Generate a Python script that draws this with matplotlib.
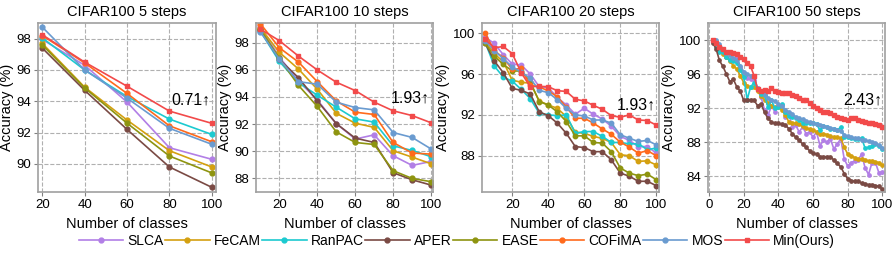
import numpy as np
import matplotlib
matplotlib.use("Agg")
import matplotlib.pyplot as plt

plt.rcParams['font.family'] = ['Liberation Sans', 'DejaVu Sans']

methods = ["SLCA", "FeCAM", "RanPAC", "APER", "EASE", "COFiMA", "MOS", "Min(Ours)"]
colors = ["#b27fe6", "#d4a010", "#1ccad0", "#7a4a44", "#8e9410", "#ff6a1c", "#6a9bd0", "#f24a4a"]

# ---- CIFAR100 5 steps ----
x5 = [20, 40, 60, 80, 100]
s5 = {
    "SLCA":      [97.95, 96.30, 93.95, 91.03, 90.29],
    "FeCAM":     [97.70, 94.90, 92.80, 90.84, 89.80],
    "RanPAC":    [98.05, 96.00, 94.30, 92.86, 91.88],
    "APER":      [97.40, 94.70, 92.20, 89.80, 88.50],
    "EASE":      [97.60, 94.85, 92.60, 90.50, 89.42],
    "COFiMA":    [98.20, 96.45, 94.50, 92.43, 91.41],
    "MOS":       [98.74, 96.00, 94.20, 92.27, 91.25],
    "Min(Ours)": [98.25, 96.50, 94.96, 93.37, 92.59],
}

# ---- CIFAR100 10 steps ----
x10 = [10, 20, 30, 40, 50, 60, 70, 80, 90, 100]
s10 = {
    "SLCA":      [99.20, 96.95, 95.18, 93.79, 92.04, 90.90, 91.21, 89.67, 88.96, 89.25],
    "FeCAM":     [99.10, 97.29, 96.07, 94.57, 92.80, 92.07, 91.76, 90.04, 89.57, 89.08],
    "RanPAC":    [98.85, 96.62, 95.06, 94.13, 93.25, 92.39, 92.15, 90.40, 90.06, 89.60],
    "APER":      [98.90, 96.77, 95.43, 93.71, 92.04, 90.97, 90.65, 88.42, 87.90, 87.51],
    "EASE":      [99.00, 96.85, 94.87, 93.30, 91.43, 90.65, 90.50, 88.57, 88.00, 87.76],
    "COFiMA":    [99.40, 97.63, 96.58, 95.13, 93.71, 92.88, 92.71, 90.65, 89.87, 89.79],
    "MOS":       [98.80, 96.78, 95.13, 94.94, 93.62, 93.22, 93.05, 91.38, 91.02, 90.17],
    "Min(Ours)": [99.00, 98.15, 97.02, 95.99, 95.09, 94.47, 93.62, 92.98, 92.63, 92.10],
}

# ---- CIFAR100 20 steps ----
x20 = list(range(5, 101, 5))
s20 = {
    "SLCA":      [99.60, 99.00, 97.90, 96.98, 96.88, 96.00, 94.76, 94.67, 93.72, 92.97,
                  92.07, 92.65, 92.07, 91.60, 90.90, 89.90, 89.50, 88.90, 88.90, 88.26],
    "FeCAM":     [99.20, 98.00, 97.20, 95.40, 95.20, 95.10, 93.37, 92.97, 92.65, 91.84,
                  90.30, 90.20, 89.90, 89.70, 89.30, 88.10, 88.00, 87.45, 87.50, 87.10],
    "RanPAC":    [99.10, 96.80, 95.70, 95.30, 94.50, 93.60, 92.16, 92.00, 91.93, 92.00,
                  90.20, 90.37, 90.37, 89.90, 89.30, 89.30, 89.17, 89.17, 88.60, 88.75],
    "APER":      [99.00, 97.30, 96.13, 94.60, 94.40, 94.05, 92.30, 91.93, 91.20, 90.20,
                  88.90, 88.80, 88.40, 88.40, 87.60, 86.30, 86.00, 85.50, 85.50, 85.07],
    "EASE":      [99.00, 97.75, 96.95, 96.30, 96.30, 95.25, 93.30, 92.97, 92.30, 91.35,
                  89.95, 89.95, 89.30, 89.24, 88.40, 86.80, 86.30, 86.05, 86.20, 85.66],
    "COFiMA":    [100.0, 98.30, 97.60, 96.45, 96.55, 94.90, 94.76, 94.34, 93.80, 92.75,
                  91.67, 91.67, 91.20, 90.63, 90.10, 89.33, 88.85, 88.26, 88.50, 88.00],
    "MOS":       [99.25, 98.30, 97.50, 96.70, 96.20, 95.57, 94.40, 94.18, 93.50, 92.65,
                  92.00, 91.90, 91.50, 91.50, 91.20, 90.05, 89.72, 89.40, 89.50, 89.07],
    "Min(Ours)": [99.40, 98.57, 98.70, 98.00, 96.13, 94.76, 94.80, 94.76, 94.37, 94.30,
                  93.53, 93.37, 92.94, 92.55, 91.93, 91.77, 92.00, 91.50, 91.45, 91.00],
}

# ---- CIFAR100 50 steps ----
x50 = list(range(2, 101, 2))
s50 = {
    "SLCA": [100.0, 99.6, 99.2, 98.6, 98.0, 97.8, 97.6, 98.0, 96.8, 95.8,
             95.5, 95.4, 95.3, 94.2, 93.3, 91.8, 91.2, 92.2, 91.6, 92.2,
             92.4, 91.0, 91.4, 89.8, 90.0, 89.2, 89.8, 89.0, 89.2, 88.6,
             89.2, 87.6, 88.2, 88.0, 88.4, 87.2, 87.8, 88.4, 86.0, 85.2,
             85.6, 85.8, 85.9, 86.6, 85.0, 84.2, 85.6, 85.6, 84.4, 84.5],
    "FeCAM": [99.9, 99.4, 98.9, 98.4, 98.0, 97.5, 97.0, 96.6, 95.8, 95.0,
              94.6, 94.5, 94.5, 94.0, 93.4, 93.0, 92.6, 92.2, 92.1, 92.1,
              91.8, 91.2, 90.4, 90.2, 90.2, 90.1, 89.9, 89.7, 89.5, 89.4,
              89.2, 89.0, 89.0, 88.9, 88.7, 88.6, 88.6, 88.5, 87.4, 86.6,
              86.4, 86.2, 86.0, 86.0, 85.9, 85.8, 85.8, 85.7, 85.6, 85.3],
    "RanPAC": [99.9, 99.2, 98.6, 98.6, 98.0, 97.6, 97.5, 97.3, 96.5, 95.7,
               93.0, 94.5, 95.0, 94.2, 93.7, 93.5, 92.1, 92.9, 92.0, 92.1,
               92.5, 91.5, 91.1, 91.0, 90.9, 90.6, 90.3, 90.3, 90.3, 90.3,
               90.1, 89.4, 89.9, 89.8, 89.6, 89.5, 89.4, 89.8, 88.6, 88.6,
               88.5, 88.4, 88.4, 88.5, 87.3, 87.4, 87.5, 87.8, 87.5, 87.2],
    "APER": [99.7, 99.0, 97.6, 96.9, 96.0, 95.1, 95.4, 94.5, 94.0, 92.9,
             93.0, 93.0, 92.9, 92.3, 92.5, 91.5, 90.8, 90.4, 90.2, 90.2,
             90.1, 90.0, 89.6, 89.0, 88.6, 88.2, 87.8, 87.4, 87.0, 86.7,
             86.6, 86.3, 86.3, 86.3, 86.3, 85.9, 85.5, 85.1, 84.3, 83.7,
             83.5, 83.4, 83.4, 83.2, 83.1, 83.0, 83.0, 82.9, 82.8, 82.5],
    "MOS": [100.0, 100.0, 99.5, 99.0, 98.5, 98.2, 97.9, 97.6, 97.0, 96.3,
            96.0, 95.8, 95.6, 94.4, 94.0, 93.6, 93.2, 92.9, 92.8, 92.5,
            92.3, 91.8, 91.6, 91.3, 91.0, 90.8, 90.7, 90.5, 90.4, 90.2,
            90.1, 90.0, 89.9, 89.8, 89.7, 89.6, 89.4, 89.3, 88.9, 88.7,
            88.6, 88.5, 88.5, 88.3, 88.2, 88.1, 88.0, 87.9, 87.7, 87.37],
    "Min(Ours)": [100.0, 99.7, 99.2, 98.9, 98.6, 98.6, 98.5, 98.4, 98.0, 97.8,
                  97.3, 96.9, 95.8, 94.2, 94.0, 94.1, 94.0, 94.4, 94.0, 93.9,
                  93.8, 93.8, 93.8, 93.6, 93.4, 93.2, 93.0, 92.9, 92.6, 92.2,
                  92.0, 91.8, 91.6, 91.5, 91.4, 91.2, 91.0, 90.9, 90.7, 90.6,
                  90.8, 90.9, 90.6, 90.5, 90.4, 90.3, 90.2, 90.1, 90.0, 89.8],
}

titles = ["CIFAR100 5 steps", "CIFAR100 10 steps", "CIFAR100 20 steps", "CIFAR100 50 steps"]
gains = ["0.71\u2191", "1.93\u2191", "1.93\u2191", "2.43\u2191"]
panels = [(x5, s5), (x10, s10), (x20, s20), (x50, s50)]

# axes boxes in pixels (left, top, right, bottom)
W, H = 896, 254
boxes = [(38, 23, 216, 192), (256, 23, 433, 192), (482, 23, 659, 192), (708, 23, 885, 192)]
xlims = [(18, 102), (7.7, 101), (3.2, 101.5), (-0.6, 101.5)]
ylims = [(88.2, 99.0), (87.0, 99.45), (84.45, 101.0), (82.15, 102.0)]
xticks = [[20, 40, 60, 80, 100], [20, 40, 60, 80, 100], [20, 40, 60, 80, 100], [0, 20, 40, 60, 80, 100]]
yticks = [[90, 92, 94, 96, 98], [88, 90, 92, 94, 96, 98], [88, 92, 96, 100], [84, 88, 92, 96, 100]]
gain_pos = [(99.6, 94.1), (99.5, 93.9), (99.8, 93.0), (100.2, 92.9)]
msizes = [3.5, 3.5, 3.2, 2.4]

fig = plt.figure(figsize=(W / 100, H / 100), dpi=100)
handles = []
for i, ((xs, series), box) in enumerate(zip(panels, boxes)):
    l, t, r, b = box
    ax = fig.add_axes([l / W, 1 - b / H, (r - l) / W, (b - t) / H])
    for name, c in zip(methods, colors):
        if name not in series:
            continue
        mk = "s" if name == "Min(Ours)" else "o"
        ln, = ax.plot(xs, series[name], color=c, marker=mk, ms=msizes[i], lw=1.2, label=name)
        if i == 0:
            handles.append(ln)
    ax.set_xlim(*xlims[i])
    ax.set_ylim(*ylims[i])
    ax.set_xticks(xticks[i])
    ax.set_yticks(yticks[i])
    ax.grid(True, ls="--", color="#b0b0b0", lw=0.8)
    ax.set_axisbelow(True)
    for sp in ax.spines.values():
        sp.set_color("#a0a0a0")
        sp.set_linewidth(1.2)
    ax.tick_params(labelsize=9.5, length=3, color="#808080", pad=2)
    ax.set_title(titles[i], fontsize=10.5, pad=5)
    ax.set_xlabel("Number of classes", fontsize=10.5, labelpad=4)
    ax.set_ylabel("Accuracy (%)", fontsize=10.5, labelpad=2)
    ax.text(gain_pos[i][0], gain_pos[i][1], gains[i], ha="right", va="center", fontsize=11.5)

fig.legend(handles=handles, loc="center", bbox_to_anchor=(0.51, 0.052), ncol=8, frameon=False,
           fontsize=10, handlelength=3.2, handletextpad=0.3, columnspacing=0.1)

fig.savefig("out.png", dpi=100)
